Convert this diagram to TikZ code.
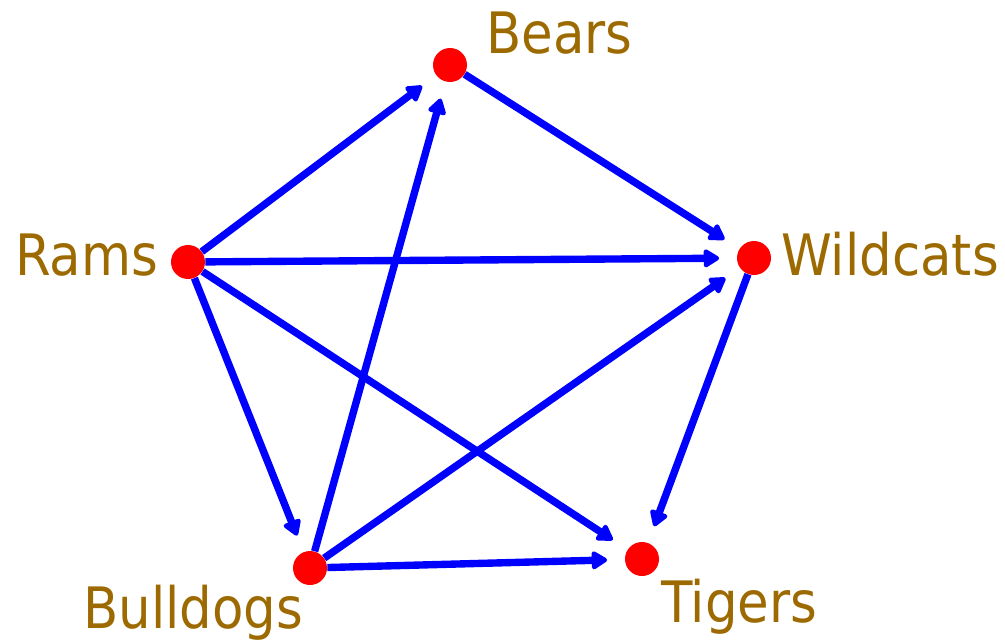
\documentclass[tikz,border=0pt]{standalone}
\usepackage{fontspec}
\setmainfont{DejaVu Sans Condensed}
\usepackage{tikz}
\usetikzlibrary{arrows.meta,positioning}
\definecolor{teamgold}{RGB}{156,106,0}

\begin{document}
\begin{tikzpicture}[
    x=0.02cm, y=-0.02cm,
    dot/.style={circle, fill=red, minimum size=0.68cm, inner sep=0pt},
    lbl/.style={text=teamgold, anchor=base west, inner sep=0pt, font=\fontsize{32.5}{39}\selectfont},
    arr/.style={-{Triangle[length=10pt, width=11.5pt, round]}, line width=4.2pt, draw=blue, shorten >=10pt}
]
\useasboundingbox (0,0) rectangle (1005,643);
\node[dot] (bears) at (450,65) {};
\node[dot] (wildcats) at (754,258) {};
\node[dot] (tigers) at (642,559) {};
\node[dot] (bulldogs) at (310,568) {};
\node[dot] (rams) at (188,262) {};
\node[lbl] (bearsname) at (486,53) {Bears};
\node[lbl] (wildcatsname) at (781,275) {Wildcats};
\node[lbl] (tigersname) at (661,622) {Tigers};
\node[lbl] (bulldogsname) at (83,628) {Bulldogs};
\node[lbl] (ramsname) at (15,275) {Rams};
\draw[arr] (rams) -- (bears);
\draw[arr] (rams) -- (wildcats);
\draw[arr] (rams) -- (tigers);
\draw[arr] (rams) -- (bulldogs);
\draw[arr] (bulldogs) -- (bears);
\draw[arr] (bulldogs) -- (wildcats);
\draw[arr] (bulldogs) -- (tigers);
\draw[arr] (bears) -- (wildcats);
\draw[arr] (wildcats) -- (tigers);
\end{tikzpicture}
\end{document}
